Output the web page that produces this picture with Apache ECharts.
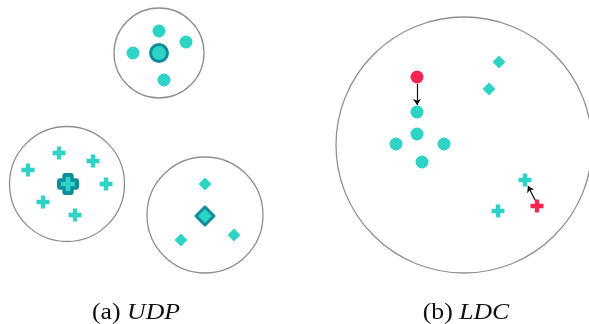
<!DOCTYPE html>
<html><head><meta charset="utf-8">
<script src="https://cdn.jsdelivr.net/npm/echarts@6/dist/echarts.min.js"></script>
<style>html,body{margin:0;padding:0;background:#fff}#c{width:589px;height:324px}</style>
</head><body><div id="c"></div>
<script>
// Cluster boundary circles [cx, cy, radius] (pixel-like data units)
const boundaryCircles = [[159,53,45],[67,184,57.5],[205,215,58],[464,145,128]];
// (a) UDP
const udpDots = [[159,31],[186,42],[133,53],[164,80]];
const udpDotCenter = [[159,53]];
const udpCrosses = [[59,153],[93,161],[28,170],[106,184],[43,202],[75,215]];
const udpCrossCenter = [[68,184]];
const udpDiamonds = [[205,184],[181,240],[234,235]];
const udpDiamondCenter = [[205,216]];
// (b) LDC
const ldcDots = [[417,112],[417,134],[396,144],[444,144],[422,162]];
const ldcDotRed = [[417,77]];
const ldcDiamonds = [[499,62],[489,89]];
const ldcCrosses = [[525,180],[498,211]];
const ldcCrossRed = [[537,206]];
const arrows = [[[417,84],[417,105]],[[535,200],[528,186]]];
// Captions
const captions = [{x:136, pre:'(a) ', it:'UDP'},{x:466, pre:'(b) ', it:'LDC'}];

const TEAL = '#2fd3c5', DARK = '#0f8c9c', RED = '#f5264f';
const PLUS = 'path://M1,0H2V1H3V2H2V3H1V2H0V1H1Z';

const chart = echarts.init(document.getElementById('c'));
function sc(data, symbol, size, color, extra) {
  return Object.assign({type:'scatter', data, symbol, symbolSize:size, silent:true,
    itemStyle:{color, opacity:1}, z:3}, extra||{});
}
function centerStyle(bw){ return {itemStyle:{color:TEAL, borderColor:DARK, borderWidth:bw, borderJoin:'round', opacity:1}, z:4}; }
chart.setOption({
  animation:false,
  grid:{left:0,right:0,top:0,bottom:0},
  xAxis:{type:'value',min:0,max:589,show:false},
  yAxis:{type:'value',min:0,max:324,inverse:true,show:false},
  series:[
    {type:'custom', data:boundaryCircles, silent:true, clip:false,
     renderItem:(p,api)=>{const c=api.coord([api.value(0),api.value(1)]);const s=api.size([api.value(2),api.value(2)]);
       return {type:'circle',shape:{cx:c[0],cy:c[1],r:s[0]},style:{fill:'none',stroke:'#8f8f8f',lineWidth:1.3}};}},
    sc(udpDots,'circle',13,TEAL),
    sc(udpDotCenter,'circle',17,TEAL,centerStyle(3)),
    sc(udpCrosses,PLUS,13,TEAL),
    sc(udpCrossCenter,PLUS,16,DARK,{itemStyle:{color:DARK,borderColor:DARK,borderWidth:6,borderJoin:'round',opacity:1},z:4}),
    sc(udpCrossCenter,PLUS,14,TEAL,{z:5}),
    sc(udpDiamonds,'diamond',13,TEAL),
    sc(udpDiamondCenter,'diamond',18,TEAL,centerStyle(3)),
    sc(ldcDots,'circle',13,TEAL),
    sc(ldcDotRed,'circle',13,RED),
    sc(ldcDiamonds,'diamond',13,TEAL),
    sc(ldcCrosses,PLUS,13,TEAL),
    sc(ldcCrossRed,PLUS,13,RED),
    {type:'lines', coordinateSystem:'cartesian2d', silent:true, z:6,
     data:arrows.map(a=>({coords:a})), symbol:['none','arrow'], symbolSize:[0,6],
     lineStyle:{color:'#111',width:1.2,opacity:1}}
  ],
  graphic: captions.map(c=>({type:'text', x:c.x, y:312.5, scaleX:1.12, silent:true,
     style:{text:c.pre+'{i|'+c.it+'}', align:'center', verticalAlign:'middle',
       font:'23px "Liberation Serif", serif', fill:'#111',
       rich:{i:{fontStyle:'italic', font:'italic 23px "Liberation Serif", serif', fill:'#111'}}}}))
});
</script></body></html>
